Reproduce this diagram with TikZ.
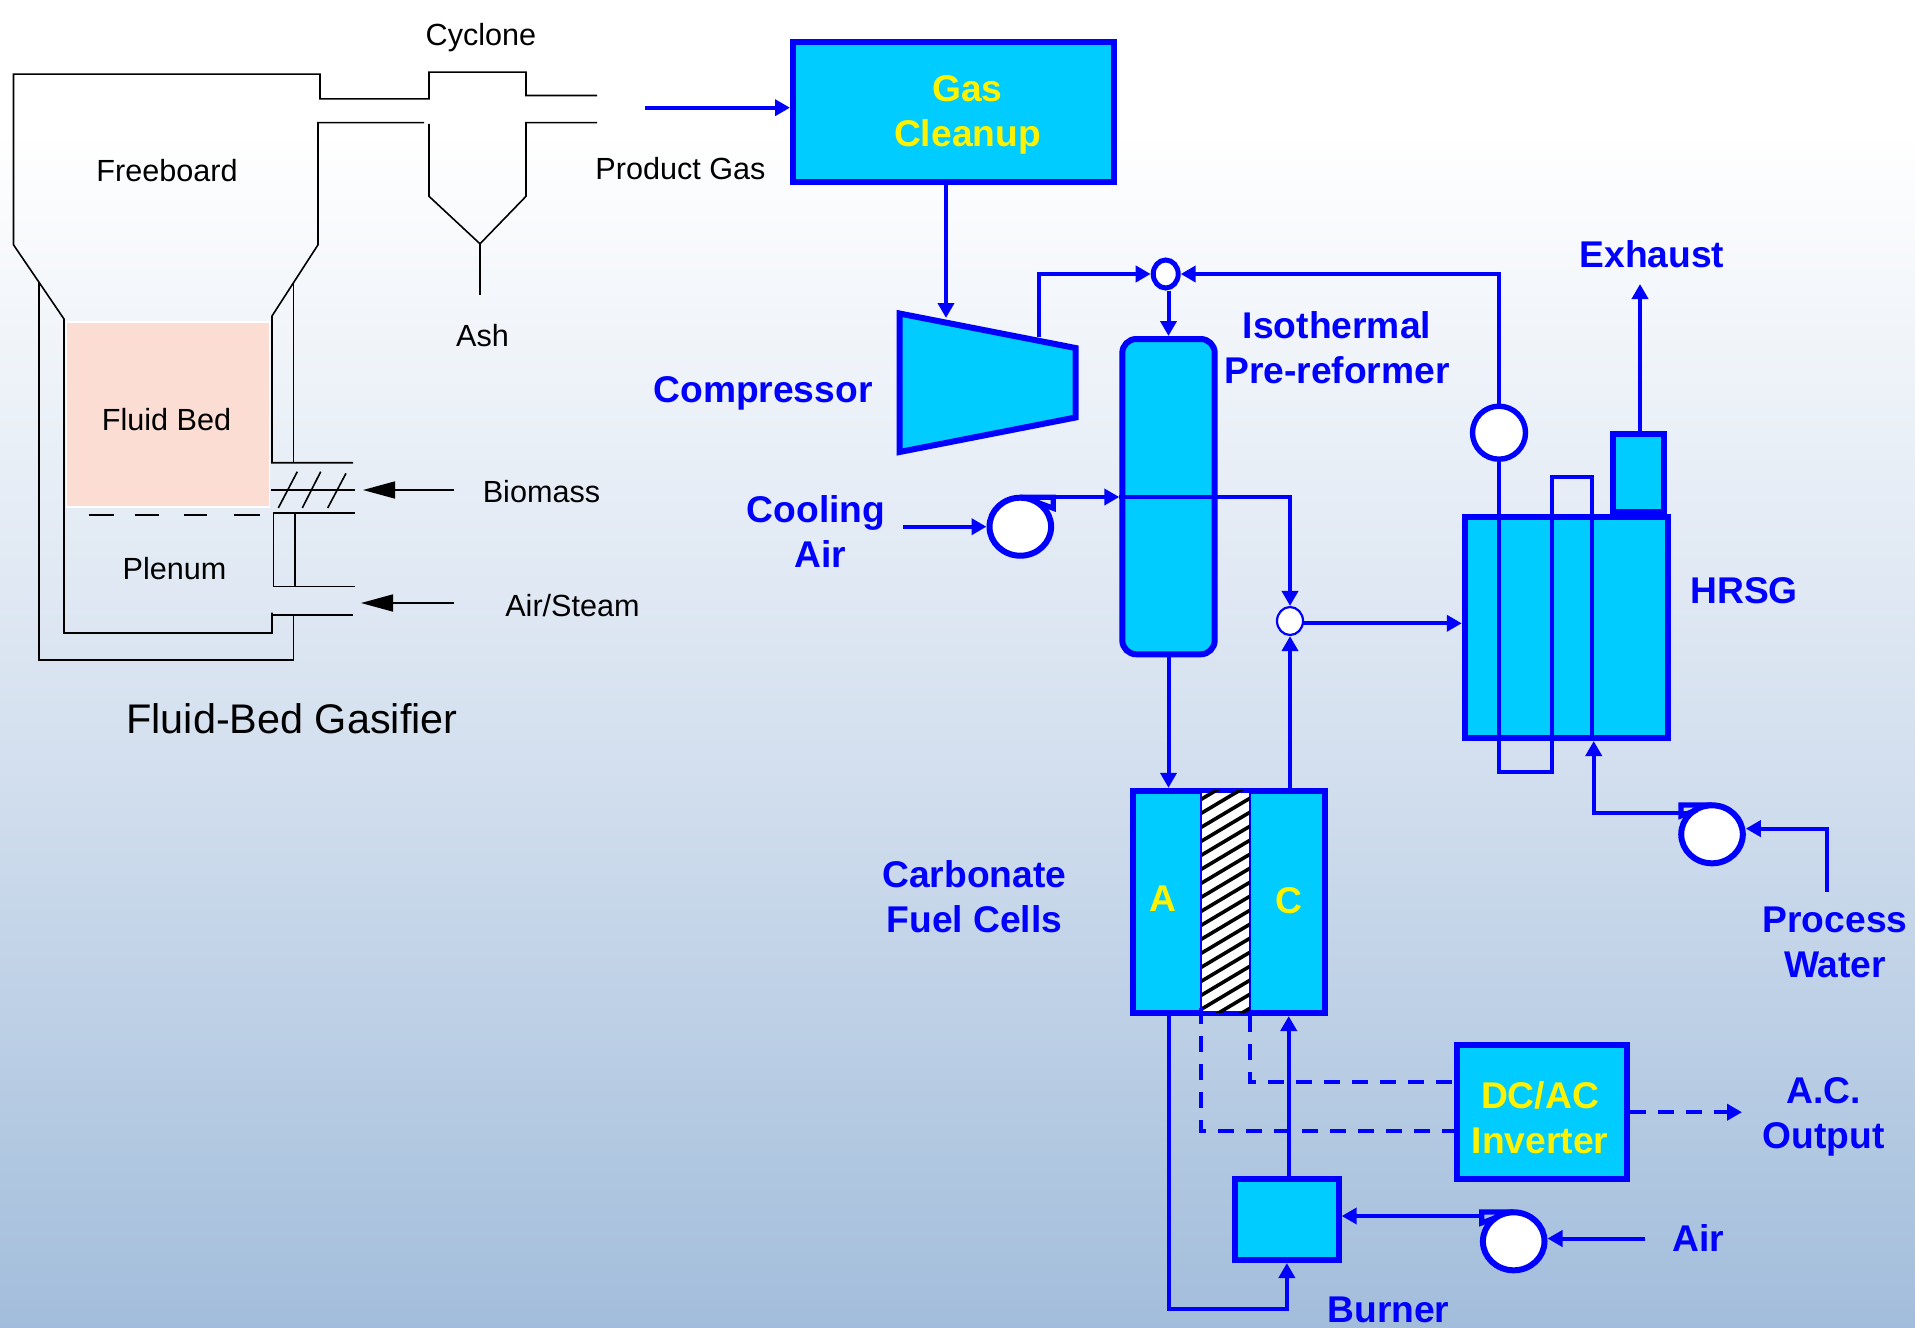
\documentclass[tikz,border=0pt]{standalone}
\usepackage{fontspec}
\setmainfont{Liberation Sans}
\usetikzlibrary{arrows.meta,shapes.geometric}

\definecolor{flowblue}{HTML}{0000FF}
\definecolor{unitcyan}{HTML}{00CCFF}
\definecolor{bedpink}{HTML}{FBDDD4}
\definecolor{fademid}{HTML}{D4E0EF}
\definecolor{fadelow}{HTML}{A2BDDB}
\pgfdeclareverticalshading{pagefade}{100bp}{color(0bp)=(fadelow); color(25bp)=(fadelow); color(46.7bp)=(fademid); color(70.1bp)=(white); color(100bp)=(white)}

\tikzset{
    wall/.style={draw=black, line width=0.8pt},
    feed/.style={draw=black, line width=0.8pt, -{Triangle[length=16pt,width=8.5pt]}},
    gastext/.style={inner sep=0pt, font=\fontsize{15.3}{18}\selectfont},
    unitbox/.style={draw=flowblue, fill=unitcyan, line width=3pt, inner sep=0pt},
    pumpbody/.style={ellipse, draw=flowblue, fill=white, line width=3pt, inner sep=0pt, minimum width=30.8pt, minimum height=29pt},
    pumptail/.style={draw=flowblue, line width=2.6pt},
    pipe/.style={draw=flowblue, line width=2pt},
    flow/.style={pipe, -{Triangle[length=7.5pt,width=8pt]}},
    power/.style={flow, dash pattern=on 8pt off 6pt},
    bluetext/.style={inner sep=0pt, align=center, text=flowblue, font=\fontsize{18.6}{22.5}\selectfont\bfseries},
    yellowtext/.style={bluetext, text=yellow},
}

\begin{document}
\begin{tikzpicture}[x=0.5pt, y=-0.5pt]
    \useasboundingbox (0,0) rectangle (1915,1327);
    \shade[shading=pagefade] (0,0) rectangle (1915,1327);

    % gasifier
    \fill[bedpink, draw=white, line width=0.7pt] (66.5,321.8) rectangle (269.5,507);
    \draw[wall] (597,95.5) -- (526,95.5) -- (526,72.2) -- (429,72.2) -- (429,98.9) -- (320,98.9) -- (320,74.2) -- (13.5,74.2) -- (13.5,244.8) -- (64,319) -- (64,633) -- (272,633) -- (272,612.5);
    \draw[wall] (272,615) -- (353,615);
    \draw[wall] (424,122.6) -- (318,122.6) -- (318,244.8) -- (272,316) -- (272,462.7) -- (353,462.7);
    \draw[wall] (39,282) -- (39,660) -- (293.5,660) -- (293.5,615);
    \draw[wall] (293.5,283) -- (293.5,462.7);
    \draw[wall] (429,124) -- (429,196.3) -- (480,243.8) -- (526,196.3) -- (526,122.6) -- (597,122.6);
    \draw[wall] (480,243.8) -- (480,294.7);
    \draw[wall] (271,490) -- (355,490);
    \draw[wall] (355,512.7) -- (273.5,512.7) -- (273.5,586.5) -- (355,586.5);
    \draw[wall] (295,512.7) -- (295,586.5);
    \draw[wall] (278.3,508) -- (297.3,471.7);
    \draw[wall] (302.3,508) -- (320.7,471.7);
    \draw[wall] (327.7,508) -- (346,473.3);
    \foreach \xa/\xb in {88.5/114, 135/159, 184/207, 234/260}
        \draw[wall] (\xa,514.7) -- (\xb,514.7);

    \coordinate (biomassfree) at (454,490);
    \coordinate (biomasstip) at (363,490);
    \coordinate (steamfree) at (454,603);
    \coordinate (steamtip) at (361,603);
    \draw[feed] (biomassfree) -- (biomasstip);
    \draw[feed] (steamfree) -- (steamtip);

    \node[gastext] (cyclone) at (481,37.5) {Cyclone};
    \node[gastext] (freeboard) at (167,170.5) {Freeboard};
    \node[gastext] (productgas) at (680.5,169) {Product Gas};
    \node[gastext] (ash) at (482.5,335.4) {Ash};
    \node[gastext] (fluidbed) at (166.5,419.5) {Fluid Bed};
    \node[gastext] (biomass) at (541.5,491.5) {Biomass};
    \node[gastext] (plenum) at (174.6,568.5) {Plenum};
    \node[gastext] (airsteam) at (572.5,606) {Air/Steam};
    \node[inner sep=0pt, font=\fontsize{20.7}{24}\selectfont] (gasifier) at (292,719) {Fluid-Bed Gasifier};

    % units
    \node[unitbox, minimum width=160.35pt, minimum height=69.85pt] (cleanup) at (953.35,112.15) {};
    \node[unitbox, rounded corners=7pt, minimum width=46.2pt, minimum height=157.65pt] (reformer) at (1168.5,496.65) {};
    \node[unitbox, minimum width=101.5pt, minimum height=110.85pt] (hrsg) at (1566.25,627.4) {};
    \node[unitbox, minimum width=25.7pt, minimum height=38.55pt] (stack) at (1638.7,473) {};
    \node[unitbox, minimum width=96pt, minimum height=111pt] (cell) at (1228.5,901.8) {};
    \node[unitbox, minimum width=51.85pt, minimum height=40.3pt] (burner) at (1286.85,1219.7) {};
    \node[unitbox, minimum width=84.75pt, minimum height=66.8pt] (inverter) at (1541.75,1112.2) {};
    \draw[unitbox] (899.5,313.5) -- (1075.5,348) -- (1075.5,417.5) -- (899.5,452) -- cycle;

    % membrane
    \node[draw=flowblue, fill=white, line width=0.9pt, inner sep=0pt, minimum width=24pt, minimum height=110pt] (membrane) at (1225.5,901.8) {};
    \begin{scope}
        \clip (membrane.south west) rectangle (membrane.north east);
        \foreach \ya in {800,814,...,1060}
            \draw[black, line width=1.8pt] (1200,\ya) -- (1252,\ya-31);
    \end{scope}
    \draw[flowblue, line width=0.9pt] (membrane.south west) -- (membrane.north west);
    \draw[flowblue, line width=0.9pt] (membrane.south east) -- (membrane.north east);

    % mixers and pumps
    \node[ellipse, draw=flowblue, fill=white, line width=2.5pt, inner sep=0pt, minimum width=12.5pt, minimum height=14pt] (mixgas) at (1165.7,274) {};
    \node[ellipse, draw=flowblue, fill=white, line width=1.1pt, inner sep=0pt, minimum width=13pt, minimum height=14pt] (mixhot) at (1290,621) {};
    \node[ellipse, draw=flowblue, fill=white, line width=2.7pt, inner sep=0pt, minimum width=26.5pt, minimum height=26.5pt] (recycle) at (1499,432.7) {};
    \node[pumpbody] (pumpcool) at (1020.3,526.7) {};
    \node[pumpbody] (pumpwater) at (1712,834.3) {};
    \node[pumpbody] (pumpair) at (1513.7,1241.3) {};
    \draw[pumptail] ([yshift=-1.3pt]pumpcool.north) -- ++(33,0) -- ++(0,11) -- ++(-16,-6);
    \draw[pumptail] ([yshift=-1.3pt]pumpwater.north) -- ++(-31,0) -- ++(0,11) -- ++(16,-6);
    \draw[pumptail] ([yshift=-1.3pt]pumpair.north) -- ++(-32,0) -- ++(0,11) -- ++(16,-6);

    \coordinate (gasfree) at (645,107.7);
    \coordinate (compin) at (946,318);
    \coordinate (compout) at (1039.3,337);
    \coordinate (coolfree) at (903.3,526.7);
    \coordinate (coolout) at (1052,497);
    \coordinate (cellout) at (1289,788);
    \coordinate (hotout) at (1302.7,623.3);
    \coordinate (coilbottom) at (1552,771.6);
    \coordinate (coiltop) at (1552,477);
    \coordinate (coilend) at (1591.5,738);
    \coordinate (exhaustend) at (1640,284);
    \coordinate (hrsgin) at (1593.7,741);
    \coordinate (waterout) at (1690,812.6);
    \coordinate (waterfree) at (1827.4,891.8);
    \coordinate (waterin) at (1745.8,828.6);
    \coordinate (airfree) at (1645.3,1238.5);
    \coordinate (airout) at (1481.5,1216);
    \coordinate (celline) at (1288.7,1016);
    \coordinate (burnerloop) at (1286.85,1308.5);
    \coordinate (dcplus) at (1250.4,1016);
    \coordinate (dcplusin) at (1454,1082);
    \coordinate (dcminus) at (1201,1008);
    \coordinate (dcminusin) at (1454,1131);
    \coordinate (acfree) at (1742,1112.2);

    % connectors
    \draw[flow] (gasfree) -- (gasfree -| cleanup.west);
    \draw[flow] (compin |- cleanup.south) -- (compin);
    \draw[flow] (compout) |- (mixgas.west);
    \draw[flow] (recycle.north) |- (mixgas.east);
    \draw[flow] (reformer.north |- mixgas.south) -- (reformer.north);
    \draw[flow] (coolfree) -- (pumpcool.west);
    \draw[flow] (coolout) -- (coolout -| reformer.west);
    \draw[flow] (coolout -| reformer.west) -| (mixhot.north);
    \draw[flow] (reformer.south) -- (reformer.south |- cell.north);
    \draw[flow] (mixhot.south |- cellout) -- (mixhot.south);
    \draw[flow] (hotout) -- (hotout -| hrsg.west);
    \draw[pipe] (recycle.south) |- (coilbottom) -- (coiltop) -| (coilend);
    \draw[flow] (exhaustend |- stack.north) -- (exhaustend);
    \draw[flow] (waterout) -| (hrsgin);
    \draw[flow] (waterfree) |- (waterin);
    \draw[flow] (airfree) -- (airfree -| pumpair.east);
    \draw[flow] (airout) -- (airout -| burner.east);
    \draw[flow] (celline |- burner.north) -- (celline);
    \draw[flow] (reformer.south |- cell.south) |- (burnerloop) -- (burner.south);
    \draw[pipe, dash pattern=on 8pt off 6pt] (dcplus) |- (dcplusin);
    \draw[pipe, dash pattern=on 8pt off 6pt] (dcminus) |- (dcminusin);
    \draw[power] (inverter.east) -- (acfree);

    % labels
    \node[yellowtext] (cleanuptext) at (967.5,115) {Gas\\Cleanup};
    \node[yellowtext] (anode) at (1163,899) {A};
    \node[yellowtext] (cathode) at (1289,901) {C};
    \node[yellowtext] (invertertext) at (1540,1118) {DC/AC\\Inverter};
    \node[bluetext] (compressor) at (763,393) {Compressor};
    \node[bluetext] (coolingair) at (816,532) {Cooling\\\hspace*{4pt}Air};
    \node[bluetext] (prereformer) at (1337,347.5) {Isothermal\\Pre-reformer};
    \node[bluetext] (exhaust) at (1652,254) {Exhaust};
    \node[bluetext] (hrsglabel) at (1744,591) {HRSG};
    \node[bluetext] (fuelcells) at (974.4,897) {Carbonate\\Fuel Cells};
    \node[bluetext] (processwater) at (1835,942) {Process\\Water};
    \node[bluetext] (acoutput) at (1823.4,1117) {A.C.\\Output};
    \node[bluetext] (airlabel) at (1698.5,1238.5) {Air};
    \node[bluetext] (burnerlabel) at (1388.4,1309.5) {Burner};
\end{tikzpicture}
\end{document}
